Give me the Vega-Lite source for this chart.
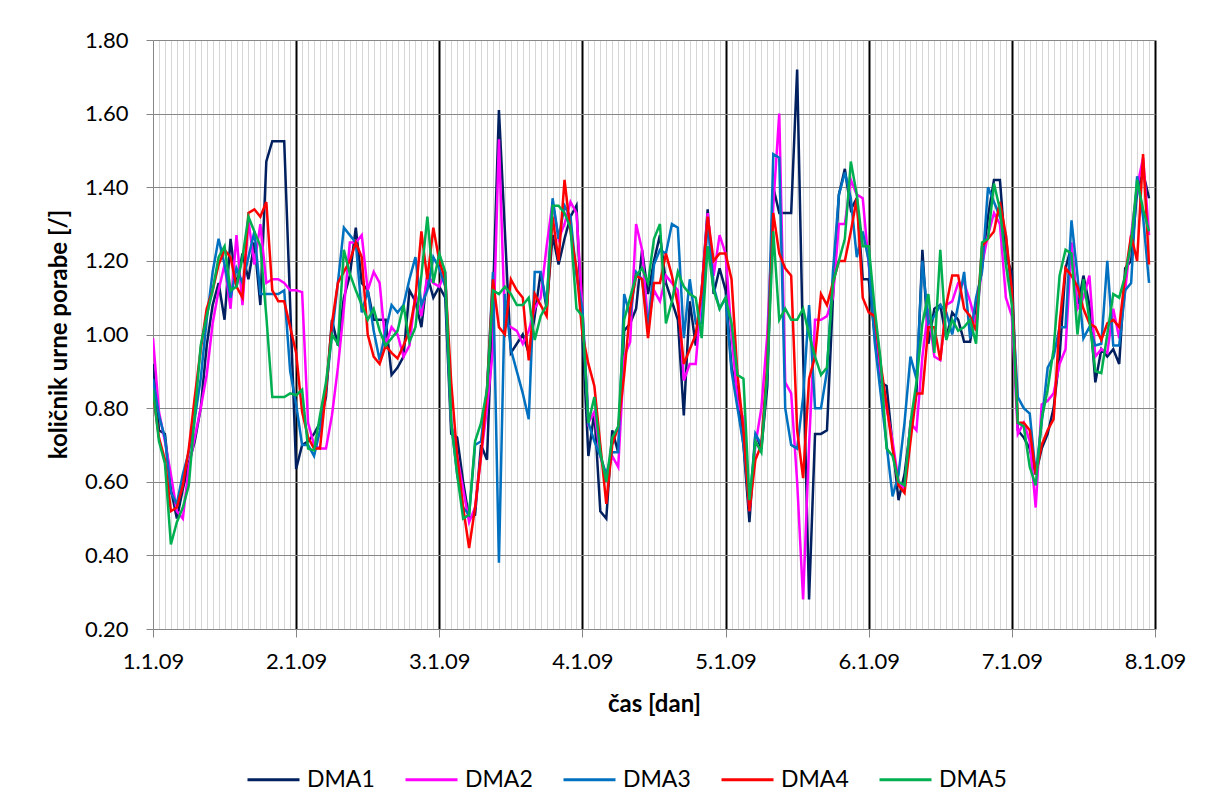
{
  "$schema": "https://vega.github.io/schema/vega-lite/v6.json",
  "width": 1002,
  "height": 589,
  "autosize": {"type": "none"},
  "padding": {"left": 153, "top": 40, "right": 52, "bottom": 182},
  "background": "white",
  "config": {"view": {"stroke": null}, "font": "Lato"},
  "data": {"values": [
    {"h":0,"DMA1":0.92,"DMA2":0.99,"DMA3":0.88,"DMA4":0.84,"DMA5":0.85},
    {"h":1,"DMA1":0.74,"DMA2":0.79,"DMA3":0.78,"DMA4":0.72,"DMA5":0.71},
    {"h":2,"DMA1":0.73,"DMA2":0.71,"DMA3":0.72,"DMA4":0.66,"DMA5":0.65},
    {"h":3,"DMA1":0.58,"DMA2":0.62,"DMA3":0.57,"DMA4":0.52,"DMA5":0.43},
    {"h":4,"DMA1":0.50,"DMA2":0.52,"DMA3":0.54,"DMA4":0.53,"DMA5":0.49},
    {"h":5,"DMA1":0.58,"DMA2":0.50,"DMA3":0.62,"DMA4":0.59,"DMA5":0.53},
    {"h":6,"DMA1":0.65,"DMA2":0.64,"DMA3":0.68,"DMA4":0.69,"DMA5":0.59},
    {"h":7,"DMA1":0.71,"DMA2":0.72,"DMA3":0.77,"DMA4":0.83,"DMA5":0.78},
    {"h":8,"DMA1":0.80,"DMA2":0.80,"DMA3":0.88,"DMA4":0.96,"DMA5":0.97},
    {"h":9,"DMA1":0.97,"DMA2":0.89,"DMA3":1.04,"DMA4":1.07,"DMA5":1.05},
    {"h":10,"DMA1":1.08,"DMA2":1.03,"DMA3":1.17,"DMA4":1.12,"DMA5":1.12},
    {"h":11,"DMA1":1.14,"DMA2":1.12,"DMA3":1.26,"DMA4":1.19,"DMA5":1.21},
    {"h":12,"DMA1":1.04,"DMA2":1.19,"DMA3":1.19,"DMA4":1.23,"DMA5":1.24},
    {"h":13,"DMA1":1.26,"DMA2":1.07,"DMA3":1.10,"DMA4":1.21,"DMA5":1.12},
    {"h":14,"DMA1":1.13,"DMA2":1.27,"DMA3":1.18,"DMA4":1.13,"DMA5":1.13},
    {"h":15,"DMA1":1.22,"DMA2":1.08,"DMA3":1.14,"DMA4":1.10,"DMA5":1.21},
    {"h":16,"DMA1":1.15,"DMA2":1.31,"DMA3":1.21,"DMA4":1.33,"DMA5":1.32},
    {"h":17,"DMA1":1.25,"DMA2":1.19,"DMA3":1.28,"DMA4":1.34,"DMA5":1.28},
    {"h":18,"DMA1":1.08,"DMA2":1.30,"DMA3":1.11,"DMA4":1.32,"DMA5":1.24},
    {"h":19,"DMA1":1.47,"DMA2":1.14,"DMA3":1.11,"DMA4":1.36,"DMA5":1.05},
    {"h":20,"DMA1":1.525,"DMA2":1.15,"DMA3":1.11,"DMA4":1.12,"DMA5":0.83},
    {"h":21,"DMA1":1.525,"DMA2":1.15,"DMA3":1.11,"DMA4":1.09,"DMA5":0.83},
    {"h":22,"DMA1":1.525,"DMA2":1.14,"DMA3":1.12,"DMA4":1.09,"DMA5":0.83},
    {"h":23,"DMA1":1.08,"DMA2":1.12,"DMA3":0.90,"DMA4":1.02,"DMA5":0.84},
    {"h":24,"DMA1":0.635,"DMA2":1.12,"DMA3":0.81,"DMA4":0.95,"DMA5":0.835},
    {"h":25,"DMA1":0.70,"DMA2":1.115,"DMA3":0.70,"DMA4":0.79,"DMA5":0.85},
    {"h":26,"DMA1":0.71,"DMA2":0.76,"DMA3":0.70,"DMA4":0.72,"DMA5":0.69},
    {"h":27,"DMA1":0.73,"DMA2":0.70,"DMA3":0.67,"DMA4":0.69,"DMA5":0.685},
    {"h":28,"DMA1":0.76,"DMA2":0.69,"DMA3":0.74,"DMA4":0.69,"DMA5":0.78},
    {"h":29,"DMA1":0.83,"DMA2":0.69,"DMA3":0.85,"DMA4":0.85,"DMA5":0.87},
    {"h":30,"DMA1":1.04,"DMA2":0.78,"DMA3":1.00,"DMA4":1.03,"DMA5":1.00},
    {"h":31,"DMA1":0.97,"DMA2":0.91,"DMA3":1.14,"DMA4":1.14,"DMA5":0.975},
    {"h":32,"DMA1":1.10,"DMA2":1.07,"DMA3":1.29,"DMA4":1.17,"DMA5":1.23},
    {"h":33,"DMA1":1.16,"DMA2":1.25,"DMA3":1.27,"DMA4":1.20,"DMA5":1.165},
    {"h":34,"DMA1":1.29,"DMA2":1.25,"DMA3":1.25,"DMA4":1.25,"DMA5":1.12},
    {"h":35,"DMA1":1.14,"DMA2":1.27,"DMA3":1.06,"DMA4":1.21,"DMA5":1.08},
    {"h":36,"DMA1":1.12,"DMA2":1.12,"DMA3":1.12,"DMA4":1.00,"DMA5":1.04},
    {"h":37,"DMA1":1.04,"DMA2":1.17,"DMA3":1.01,"DMA4":0.94,"DMA5":1.07},
    {"h":38,"DMA1":1.04,"DMA2":1.14,"DMA3":0.93,"DMA4":0.92,"DMA5":1.01},
    {"h":39,"DMA1":1.04,"DMA2":0.97,"DMA3":1.01,"DMA4":0.97,"DMA5":0.97},
    {"h":40,"DMA1":0.89,"DMA2":1.02,"DMA3":1.08,"DMA4":0.95,"DMA5":0.99},
    {"h":41,"DMA1":0.91,"DMA2":1.00,"DMA3":1.06,"DMA4":0.935,"DMA5":1.01},
    {"h":42,"DMA1":0.94,"DMA2":0.94,"DMA3":1.08,"DMA4":0.97,"DMA5":1.08},
    {"h":43,"DMA1":1.12,"DMA2":0.97,"DMA3":1.15,"DMA4":1.01,"DMA5":0.98},
    {"h":44,"DMA1":1.09,"DMA2":1.11,"DMA3":1.21,"DMA4":1.10,"DMA5":1.02},
    {"h":45,"DMA1":1.02,"DMA2":1.05,"DMA3":1.08,"DMA4":1.28,"DMA5":1.16},
    {"h":46,"DMA1":1.16,"DMA2":1.16,"DMA3":1.12,"DMA4":1.15,"DMA5":1.32},
    {"h":47,"DMA1":1.10,"DMA2":1.14,"DMA3":1.21,"DMA4":1.29,"DMA5":1.14},
    {"h":48,"DMA1":1.13,"DMA2":1.13,"DMA3":1.18,"DMA4":1.20,"DMA5":1.22},
    {"h":49,"DMA1":1.10,"DMA2":1.17,"DMA3":1.13,"DMA4":1.15,"DMA5":1.17},
    {"h":50,"DMA1":0.73,"DMA2":0.76,"DMA3":0.76,"DMA4":0.87,"DMA5":0.76},
    {"h":51,"DMA1":0.72,"DMA2":0.67,"DMA3":0.62,"DMA4":0.67,"DMA5":0.62},
    {"h":52,"DMA1":0.60,"DMA2":0.58,"DMA3":0.53,"DMA4":0.53,"DMA5":0.50},
    {"h":53,"DMA1":0.50,"DMA2":0.49,"DMA3":0.51,"DMA4":0.42,"DMA5":0.51},
    {"h":54,"DMA1":0.51,"DMA2":0.53,"DMA3":0.70,"DMA4":0.53,"DMA5":0.71},
    {"h":55,"DMA1":0.70,"DMA2":0.67,"DMA3":0.71,"DMA4":0.67,"DMA5":0.76},
    {"h":56,"DMA1":0.66,"DMA2":0.80,"DMA3":0.85,"DMA4":0.85,"DMA5":0.85},
    {"h":57,"DMA1":1.10,"DMA2":0.96,"DMA3":1.17,"DMA4":1.15,"DMA5":1.12},
    {"h":58,"DMA1":1.61,"DMA2":1.53,"DMA3":0.38,"DMA4":1.02,"DMA5":1.11},
    {"h":59,"DMA1":1.28,"DMA2":1.03,"DMA3":1.11,"DMA4":1.00,"DMA5":1.13},
    {"h":60,"DMA1":0.95,"DMA2":1.02,"DMA3":0.96,"DMA4":1.15,"DMA5":1.11},
    {"h":61,"DMA1":0.975,"DMA2":1.01,"DMA3":0.90,"DMA4":1.12,"DMA5":1.08},
    {"h":62,"DMA1":1.00,"DMA2":0.975,"DMA3":0.84,"DMA4":1.10,"DMA5":1.08},
    {"h":63,"DMA1":0.95,"DMA2":1.01,"DMA3":0.77,"DMA4":0.93,"DMA5":1.10},
    {"h":64,"DMA1":1.05,"DMA2":1.07,"DMA3":1.17,"DMA4":1.11,"DMA5":0.985},
    {"h":65,"DMA1":1.17,"DMA2":1.10,"DMA3":1.17,"DMA4":1.08,"DMA5":1.05},
    {"h":66,"DMA1":1.07,"DMA2":1.24,"DMA3":1.08,"DMA4":1.05,"DMA5":1.08},
    {"h":67,"DMA1":1.27,"DMA2":1.36,"DMA3":1.37,"DMA4":1.32,"DMA5":1.35},
    {"h":68,"DMA1":1.19,"DMA2":1.26,"DMA3":1.26,"DMA4":1.20,"DMA5":1.35},
    {"h":69,"DMA1":1.26,"DMA2":1.30,"DMA3":1.35,"DMA4":1.42,"DMA5":1.33},
    {"h":70,"DMA1":1.32,"DMA2":1.36,"DMA3":1.32,"DMA4":1.28,"DMA5":1.29},
    {"h":71,"DMA1":1.35,"DMA2":1.33,"DMA3":1.16,"DMA4":1.18,"DMA5":1.07},
    {"h":72,"DMA1":1.00,"DMA2":1.07,"DMA3":1.07,"DMA4":1.00,"DMA5":1.05},
    {"h":73,"DMA1":0.67,"DMA2":0.76,"DMA3":0.76,"DMA4":0.92,"DMA5":0.76},
    {"h":74,"DMA1":0.79,"DMA2":0.79,"DMA3":0.71,"DMA4":0.86,"DMA5":0.83},
    {"h":75,"DMA1":0.52,"DMA2":0.67,"DMA3":0.67,"DMA4":0.70,"DMA5":0.68},
    {"h":76,"DMA1":0.50,"DMA2":0.61,"DMA3":0.62,"DMA4":0.54,"DMA5":0.60},
    {"h":77,"DMA1":0.74,"DMA2":0.67,"DMA3":0.68,"DMA4":0.70,"DMA5":0.72},
    {"h":78,"DMA1":0.68,"DMA2":0.64,"DMA3":0.68,"DMA4":0.75,"DMA5":0.75},
    {"h":79,"DMA1":1.01,"DMA2":0.94,"DMA3":1.11,"DMA4":0.89,"DMA5":1.04},
    {"h":80,"DMA1":1.03,"DMA2":0.98,"DMA3":1.05,"DMA4":1.07,"DMA5":1.10},
    {"h":81,"DMA1":1.07,"DMA2":1.30,"DMA3":1.17,"DMA4":1.16,"DMA5":1.16},
    {"h":82,"DMA1":1.23,"DMA2":1.23,"DMA3":1.15,"DMA4":1.15,"DMA5":1.18},
    {"h":83,"DMA1":1.11,"DMA2":1.03,"DMA3":1.02,"DMA4":0.99,"DMA5":1.14},
    {"h":84,"DMA1":1.20,"DMA2":1.12,"DMA3":1.19,"DMA4":1.14,"DMA5":1.26},
    {"h":85,"DMA1":1.27,"DMA2":1.09,"DMA3":1.23,"DMA4":1.14,"DMA5":1.30},
    {"h":86,"DMA1":1.14,"DMA2":1.16,"DMA3":1.22,"DMA4":1.22,"DMA5":1.03},
    {"h":87,"DMA1":1.09,"DMA2":1.14,"DMA3":1.30,"DMA4":1.16,"DMA5":1.09},
    {"h":88,"DMA1":1.04,"DMA2":1.12,"DMA3":1.29,"DMA4":1.08,"DMA5":1.17},
    {"h":89,"DMA1":0.78,"DMA2":0.875,"DMA3":0.99,"DMA4":0.92,"DMA5":1.13},
    {"h":90,"DMA1":1.09,"DMA2":0.92,"DMA3":1.15,"DMA4":0.96,"DMA5":1.11},
    {"h":91,"DMA1":0.97,"DMA2":0.92,"DMA3":1.03,"DMA4":1.00,"DMA5":1.10},
    {"h":92,"DMA1":1.12,"DMA2":1.12,"DMA3":1.03,"DMA4":1.12,"DMA5":0.99},
    {"h":93,"DMA1":1.34,"DMA2":1.33,"DMA3":1.31,"DMA4":1.32,"DMA5":1.24},
    {"h":94,"DMA1":1.11,"DMA2":1.16,"DMA3":1.13,"DMA4":1.20,"DMA5":1.12},
    {"h":95,"DMA1":1.18,"DMA2":1.27,"DMA3":1.07,"DMA4":1.22,"DMA5":1.07},
    {"h":96,"DMA1":1.12,"DMA2":1.22,"DMA3":1.10,"DMA4":1.22,"DMA5":1.10},
    {"h":97,"DMA1":0.91,"DMA2":1.00,"DMA3":0.90,"DMA4":1.15,"DMA5":1.03},
    {"h":98,"DMA1":0.85,"DMA2":0.82,"DMA3":0.80,"DMA4":0.89,"DMA5":0.89},
    {"h":99,"DMA1":0.70,"DMA2":0.77,"DMA3":0.70,"DMA4":0.74,"DMA5":0.88},
    {"h":100,"DMA1":0.49,"DMA2":0.52,"DMA3":0.53,"DMA4":0.52,"DMA5":0.55},
    {"h":101,"DMA1":0.73,"DMA2":0.70,"DMA3":0.73,"DMA4":0.66,"DMA5":0.71},
    {"h":102,"DMA1":0.69,"DMA2":0.80,"DMA3":0.70,"DMA4":0.70,"DMA5":0.68},
    {"h":103,"DMA1":0.86,"DMA2":1.00,"DMA3":0.90,"DMA4":0.92,"DMA5":0.90},
    {"h":104,"DMA1":1.40,"DMA2":1.35,"DMA3":1.49,"DMA4":1.33,"DMA5":1.28},
    {"h":105,"DMA1":1.33,"DMA2":1.60,"DMA3":1.48,"DMA4":1.22,"DMA5":1.04},
    {"h":106,"DMA1":1.33,"DMA2":0.87,"DMA3":0.80,"DMA4":1.18,"DMA5":1.07},
    {"h":107,"DMA1":1.33,"DMA2":0.84,"DMA3":0.70,"DMA4":1.16,"DMA5":1.04},
    {"h":108,"DMA1":1.72,"DMA2":0.60,"DMA3":0.69,"DMA4":0.74,"DMA5":1.04},
    {"h":109,"DMA1":0.95,"DMA2":0.28,"DMA3":0.83,"DMA4":0.61,"DMA5":1.07},
    {"h":110,"DMA1":0.28,"DMA2":0.70,"DMA3":1.08,"DMA4":0.88,"DMA5":1.00},
    {"h":111,"DMA1":0.73,"DMA2":1.04,"DMA3":0.80,"DMA4":0.94,"DMA5":0.94},
    {"h":112,"DMA1":0.73,"DMA2":1.04,"DMA3":0.80,"DMA4":1.11,"DMA5":0.89},
    {"h":113,"DMA1":0.74,"DMA2":1.05,"DMA3":0.90,"DMA4":1.08,"DMA5":0.91},
    {"h":114,"DMA1":1.10,"DMA2":1.10,"DMA3":1.17,"DMA4":1.14,"DMA5":1.14},
    {"h":115,"DMA1":1.38,"DMA2":1.30,"DMA3":1.38,"DMA4":1.20,"DMA5":1.20},
    {"h":116,"DMA1":1.45,"DMA2":1.30,"DMA3":1.44,"DMA4":1.20,"DMA5":1.26},
    {"h":117,"DMA1":1.34,"DMA2":1.42,"DMA3":1.37,"DMA4":1.28,"DMA5":1.47},
    {"h":118,"DMA1":1.37,"DMA2":1.38,"DMA3":1.21,"DMA4":1.37,"DMA5":1.38},
    {"h":119,"DMA1":1.15,"DMA2":1.37,"DMA3":1.28,"DMA4":1.10,"DMA5":1.24},
    {"h":120,"DMA1":1.15,"DMA2":1.19,"DMA3":1.20,"DMA4":1.06,"DMA5":1.24},
    {"h":121,"DMA1":1.00,"DMA2":1.05,"DMA3":0.98,"DMA4":1.05,"DMA5":1.07},
    {"h":122,"DMA1":0.87,"DMA2":0.89,"DMA3":0.84,"DMA4":0.92,"DMA5":0.93},
    {"h":123,"DMA1":0.86,"DMA2":0.80,"DMA3":0.70,"DMA4":0.81,"DMA5":0.69},
    {"h":124,"DMA1":0.70,"DMA2":0.71,"DMA3":0.56,"DMA4":0.69,"DMA5":0.67},
    {"h":125,"DMA1":0.55,"DMA2":0.60,"DMA3":0.62,"DMA4":0.59,"DMA5":0.60},
    {"h":126,"DMA1":0.62,"DMA2":0.58,"DMA3":0.76,"DMA4":0.57,"DMA5":0.59},
    {"h":127,"DMA1":0.75,"DMA2":0.76,"DMA3":0.94,"DMA4":0.71,"DMA5":0.76},
    {"h":128,"DMA1":0.84,"DMA2":0.74,"DMA3":0.88,"DMA4":0.84,"DMA5":0.87},
    {"h":129,"DMA1":1.23,"DMA2":0.94,"DMA3":1.20,"DMA4":0.84,"DMA5":1.03},
    {"h":130,"DMA1":0.975,"DMA2":1.07,"DMA3":1.03,"DMA4":1.02,"DMA5":1.11},
    {"h":131,"DMA1":1.07,"DMA2":0.94,"DMA3":1.05,"DMA4":1.02,"DMA5":0.95},
    {"h":132,"DMA1":1.08,"DMA2":0.93,"DMA3":1.08,"DMA4":0.93,"DMA5":1.23},
    {"h":133,"DMA1":0.99,"DMA2":1.08,"DMA3":1.06,"DMA4":1.08,"DMA5":0.985},
    {"h":134,"DMA1":1.06,"DMA2":1.09,"DMA3":1.00,"DMA4":1.16,"DMA5":1.04},
    {"h":135,"DMA1":1.04,"DMA2":1.14,"DMA3":1.08,"DMA4":1.16,"DMA5":1.01},
    {"h":136,"DMA1":0.98,"DMA2":1.14,"DMA3":1.17,"DMA4":1.07,"DMA5":1.02},
    {"h":137,"DMA1":0.98,"DMA2":1.09,"DMA3":0.99,"DMA4":1.05,"DMA5":1.04},
    {"h":138,"DMA1":1.08,"DMA2":1.03,"DMA3":1.10,"DMA4":1.01,"DMA5":0.975},
    {"h":139,"DMA1":1.18,"DMA2":1.19,"DMA3":1.17,"DMA4":1.24,"DMA5":1.25},
    {"h":140,"DMA1":1.32,"DMA2":1.27,"DMA3":1.40,"DMA4":1.26,"DMA5":1.26},
    {"h":141,"DMA1":1.42,"DMA2":1.33,"DMA3":1.36,"DMA4":1.28,"DMA5":1.41},
    {"h":142,"DMA1":1.42,"DMA2":1.30,"DMA3":1.32,"DMA4":1.36,"DMA5":1.34},
    {"h":143,"DMA1":1.21,"DMA2":1.10,"DMA3":1.27,"DMA4":1.27,"DMA5":1.19},
    {"h":144,"DMA1":1.17,"DMA2":1.05,"DMA3":1.10,"DMA4":1.12,"DMA5":1.08},
    {"h":145,"DMA1":0.74,"DMA2":0.73,"DMA3":0.83,"DMA4":0.76,"DMA5":0.76},
    {"h":146,"DMA1":0.72,"DMA2":0.76,"DMA3":0.80,"DMA4":0.76,"DMA5":0.75},
    {"h":147,"DMA1":0.69,"DMA2":0.71,"DMA3":0.785,"DMA4":0.74,"DMA5":0.64},
    {"h":148,"DMA1":0.62,"DMA2":0.53,"DMA3":0.62,"DMA4":0.62,"DMA5":0.59},
    {"h":149,"DMA1":0.69,"DMA2":0.81,"DMA3":0.76,"DMA4":0.70,"DMA5":0.77},
    {"h":150,"DMA1":0.73,"DMA2":0.82,"DMA3":0.91,"DMA4":0.74,"DMA5":0.85},
    {"h":151,"DMA1":0.80,"DMA2":0.84,"DMA3":0.94,"DMA4":0.77,"DMA5":0.96},
    {"h":152,"DMA1":0.94,"DMA2":0.92,"DMA3":1.02,"DMA4":1.03,"DMA5":1.16},
    {"h":153,"DMA1":1.18,"DMA2":0.96,"DMA3":1.02,"DMA4":1.18,"DMA5":1.23},
    {"h":154,"DMA1":1.24,"DMA2":1.25,"DMA3":1.31,"DMA4":1.16,"DMA5":1.22},
    {"h":155,"DMA1":1.07,"DMA2":1.07,"DMA3":1.16,"DMA4":1.13,"DMA5":1.00},
    {"h":156,"DMA1":1.16,"DMA2":1.10,"DMA3":0.99,"DMA4":1.07,"DMA5":1.15},
    {"h":157,"DMA1":1.08,"DMA2":1.16,"DMA3":1.02,"DMA4":1.03,"DMA5":1.04},
    {"h":158,"DMA1":0.87,"DMA2":0.94,"DMA3":0.97,"DMA4":1.02,"DMA5":0.90},
    {"h":159,"DMA1":0.96,"DMA2":0.96,"DMA3":0.975,"DMA4":0.985,"DMA5":0.895},
    {"h":160,"DMA1":0.94,"DMA2":0.95,"DMA3":1.20,"DMA4":1.03,"DMA5":1.00},
    {"h":161,"DMA1":0.96,"DMA2":1.07,"DMA3":0.97,"DMA4":1.04,"DMA5":1.11},
    {"h":162,"DMA1":0.92,"DMA2":0.99,"DMA3":0.97,"DMA4":1.02,"DMA5":1.10},
    {"h":163,"DMA1":1.18,"DMA2":1.12,"DMA3":1.12,"DMA4":1.16,"DMA5":1.16},
    {"h":164,"DMA1":1.20,"DMA2":1.27,"DMA3":1.14,"DMA4":1.27,"DMA5":1.25},
    {"h":165,"DMA1":1.39,"DMA2":1.40,"DMA3":1.43,"DMA4":1.20,"DMA5":1.42},
    {"h":166,"DMA1":1.44,"DMA2":1.48,"DMA3":1.32,"DMA4":1.49,"DMA5":1.34},
    {"h":167,"DMA1":1.37,"DMA2":1.27,"DMA3":1.14,"DMA4":1.19,"DMA5":1.28}
  ]},
  "transform": [{"fold": ["DMA1", "DMA2", "DMA3", "DMA4", "DMA5"], "as": ["serija", "vrednost"]}],
  "mark": {"type": "line", "strokeWidth": 2.5, "clip": true},
  "encoding": {
    "x": {
      "field": "h",
      "type": "quantitative",
      "scale": {"domain": [0, 168], "nice": false, "zero": false},
      "axis": {
        "values": [0,1,2,3,4,5,6,7,8,9,10,11,12,13,14,15,16,17,18,19,20,21,22,23,24,25,26,27,28,29,30,31,32,33,34,35,36,37,38,39,40,41,42,43,44,45,46,47,48,49,50,51,52,53,54,55,56,57,58,59,60,61,62,63,64,65,66,67,68,69,70,71,72,73,74,75,76,77,78,79,80,81,82,83,84,85,86,87,88,89,90,91,92,93,94,95,96,97,98,99,100,101,102,103,104,105,106,107,108,109,110,111,112,113,114,115,116,117,118,119,120,121,122,123,124,125,126,127,128,129,130,131,132,133,134,135,136,137,138,139,140,141,142,143,144,145,146,147,148,149,150,151,152,153,154,155,156,157,158,159,160,161,162,163,164,165,166,167,168],
        "grid": true,
        "gridColor": {"condition": {"test": "datum.value % 24 === 0 && datum.value > 0", "value": "#000000"}, "value": "#d6d6d6"},
        "gridWidth": {"condition": {"test": "datum.value % 24 === 0 && datum.value > 0", "value": 2}, "value": 1},
        "tickColor": {"condition": {"test": "datum.value % 24 === 0", "value": "#868686"}, "value": "transparent"},
        "tickSize": 8,
        "tickWidth": 1,
        "domainColor": "#868686",
        "domainWidth": 1,
        "labelExpr": "datum.value % 24 === 0 ? (datum.value / 24 + 1) + '.1.09' : ''",
        "labelOverlap": false,
        "labelBound": false,
        "labelFlush": false,
        "labelFont": "Lato",
        "labelFontSize": 22,
        "labelColor": "#000000",
        "labelPadding": 14,
        "title": "čas [dan]",
        "titleFont": "Lato",
        "titleFontSize": 24,
        "titleFontWeight": "bold",
        "titleColor": "#000000",
        "titleBaseline": "alphabetic",
        "titleY": 82
      }
    },
    "y": {
      "field": "vrednost",
      "type": "quantitative",
      "scale": {"domain": [0.2, 1.8], "nice": false, "zero": false},
      "axis": {
        "values": [0.2, 0.4, 0.6, 0.8, 1.0, 1.2, 1.4, 1.6, 1.8],
        "format": ".2f",
        "grid": true,
        "gridColor": "#878787",
        "gridWidth": 1,
        "tickColor": "#868686",
        "tickSize": 7,
        "domainColor": "#868686",
        "labelFont": "Lato",
        "labelFontSize": 22,
        "labelColor": "#000000",
        "labelPadding": 18,
        "title": "količnik urne porabe [/]",
        "titleFont": "Lato",
        "titleFontSize": 24,
        "titleFontWeight": "bold",
        "titleColor": "#000000",
        "titleBaseline": "alphabetic",
        "titleX": -87,
        "titleY": 294
      }
    },
    "color": {
      "field": "serija",
      "type": "nominal",
      "scale": {"domain": ["DMA1", "DMA2", "DMA3", "DMA4", "DMA5"], "range": ["#002060", "#FF00FF", "#0070C0", "#FF0000", "#00B050"]},
      "legend": {
        "orient": "none",
        "legendX": 93,
        "legendY": 712,
        "direction": "horizontal",
        "title": null,
        "symbolType": "stroke",
        "symbolSize": 2704,
        "symbolStrokeWidth": 3,
        "labelFont": "Lato",
        "labelFontSize": 23,
        "labelColor": "#000000",
        "labelOffset": 6,
        "columnPadding": 24
      }
    }
  }
}
